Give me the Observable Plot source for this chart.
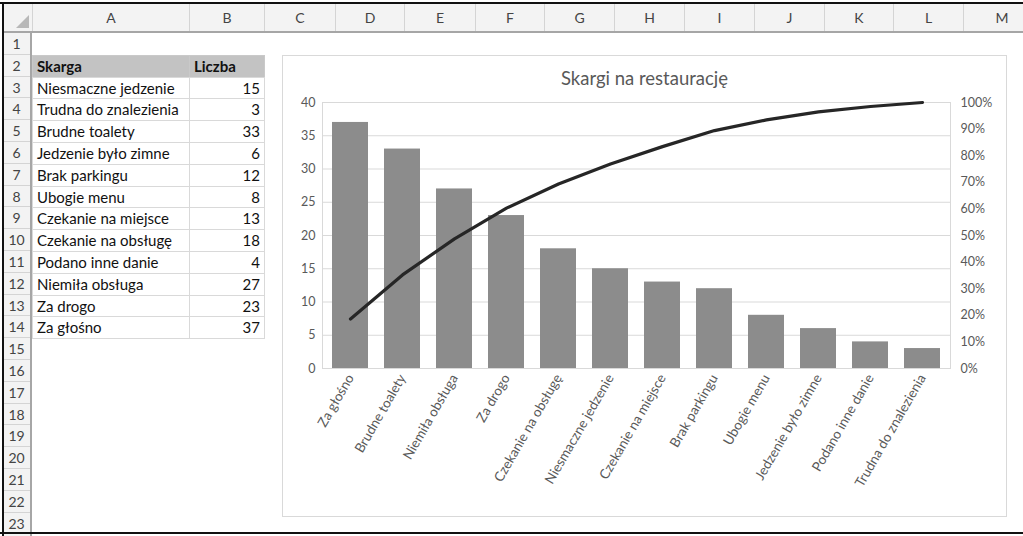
<!DOCTYPE html>
<html><head><meta charset="utf-8">
<script src="https://cdn.jsdelivr.net/npm/d3@7"></script>
<script src="https://cdn.jsdelivr.net/npm/@observablehq/plot@0.6"></script>
<style>
body{margin:0;background:#fff;font-family:Lato,"Open Sans",sans-serif;}
#page{position:relative;width:1023px;height:536px;overflow:hidden;background:#fff}
.abs{position:absolute;box-sizing:border-box;white-space:nowrap;overflow:hidden}
</style></head><body><div id="page"></div>
<script>
// ---- data ----
const sheetCategories = ["Niesmaczne jedzenie","Trudna do znalezienia","Brudne toalety","Jedzenie było zimne","Brak parkingu","Ubogie menu","Czekanie na miejsce","Czekanie na obsługę","Podano inne danie","Niemiła obsługa","Za drogo","Za głośno"];
const sheetCounts = [15,3,33,6,12,8,13,18,4,27,23,37];
const headerLabels = ["Skarga","Liczba"];
const columnLetters = ["A","B","C","D","E","F","G","H","I","J","K","L","M"];
const rowNumbers = d3.range(1,24);
const chartTitle = "Skargi na restaurację";
const leftTicks = [0,5,10,15,20,25,30,35,40];
const rightTickPercents = [0,10,20,30,40,50,60,70,80,90,100];
const rightTickLabels = ["0%","10%","20%","30%","40%","50%","60%","70%","80%","90%","100%"];

// ---- layout ----
const page = document.getElementById("page");
function box(l,t,w,h,css,text){const d=document.createElement("div");d.className="abs";d.style.cssText=`left:${l}px;top:${t}px;width:${w}px;height:${h}px;`+(css||"");if(text!=null)d.textContent=text;page.appendChild(d);return d;}
const colEdges=[3,32,189,264,335,404,475,544,614,684,754,824,893,963,1040];
const headTop=3, headBot=33, rowH=21.8;
const rowTop=i=>headBot+(i-1)*rowH;

// column header
box(3,headTop,1040,headBot-headTop,"background:#f3f3f3;border-bottom:2px solid #a6a6a6;");
columnLetters.forEach((c,i)=>{
  const l=colEdges[i+1],r=colEdges[i+2];
  box(l,headTop,r-l,headBot-headTop-2,`border-left:1px solid #d4d4d4;color:#444;font-size:14px;text-align:center;line-height:29px;`,c);
});
// row header
box(3,headBot,29,540,"background:#f3f3f3;border-right:2px solid #a6a6a6;");
rowNumbers.forEach(n=>{
  box(3,rowTop(n),27,rowH,`border-bottom:1px solid #d4d4d4;color:#444;font-size:14px;text-align:center;line-height:${rowH}px;`,String(n));
});
// corner triangle
box(16,15,14,14,"width:0;height:0;border-left:13px solid transparent;border-bottom:13px solid #b8b8b8;overflow:visible;");
// frame lines
box(0,2,1023,2,"background:#111;");
box(2,2,2,540,"background:#111;");
box(0,532,1023,2,"background:#111;");

// data table
const tableRows=[headerLabels].concat(sheetCategories.map((c,i)=>[c,String(sheetCounts[i])]));
tableRows.forEach((row,k)=>{
  const n=k+2, t=rowTop(n), hdr=k===0;
  [0,1].forEach(j=>{
    const l=colEdges[j+1], r=colEdges[j+2];
    box(l,t,r-l+1,rowH+1,`border:1px solid ${hdr?"#c9c9c9":"#d9d9d9"};background:${hdr?"#c3c3c3":"#fff"};color:#111;font-size:15px;line-height:${rowH-1}px;padding:0 4px;font-weight:${hdr?"bold":"normal"};text-align:${(j===1&&!hdr)?"right":"left"};`,row[j]);
  });
});

// chart container
box(282,55,725,462,"background:#fff;border:1px solid #d9d9d9;");
box(282,64,725,28,"text-align:center;font-size:18.5px;color:#595959;line-height:28px;",chartTitle);

// ---- pareto data ----
const total=d3.sum(sheetCounts);
const sorted=d3.sort(sheetCategories.map((c,i)=>({category:c,count:sheetCounts[i]})),(a,b)=>b.count-a.count);
let run=0;
sorted.forEach(d=>{run+=d.count;d.cum=run/total;});
const yMax=d3.max(leftTicks);

const chart=Plot.plot({
  width:724,height:425,
  marginLeft:40,marginRight:56,marginTop:12,marginBottom:147,
  style:{fontFamily:"Lato, 'Open Sans', sans-serif",fontSize:"12.5px",color:"#595959",background:"transparent"},
  x:{type:"band",domain:sorted.map(d=>d.category),paddingInner:0.314,paddingOuter:0.157,label:null},
  y:{domain:[0,yMax],label:null},
  marks:[
    Plot.ruleY(leftTicks,{stroke:"#d9d9d9",strokeWidth:1}),
    Plot.frame({stroke:"#d9d9d9"}),
    Plot.barY(sorted,{x:"category",y:"count",fill:"#8c8c8c"}),
    Plot.line(sorted,{x:"category",y:d=>d.cum*yMax,stroke:"#262626",strokeWidth:3.2}),
    Plot.axisY(leftTicks,{anchor:"left",tickSize:0,tickPadding:7,label:null}),
    Plot.axisY(rightTickPercents.map(p=>p/100*yMax),{anchor:"right",tickSize:0,tickPadding:10,label:null,tickFormat:(d,i)=>rightTickLabels[i]}),
    Plot.axisX({tickRotate:-60,tickSize:0,tickPadding:7,label:null,fontSize:13.5})
  ]
});
chart.style.position="absolute";chart.style.left="282px";chart.style.top="90px";
page.appendChild(chart);
</script></body></html>
